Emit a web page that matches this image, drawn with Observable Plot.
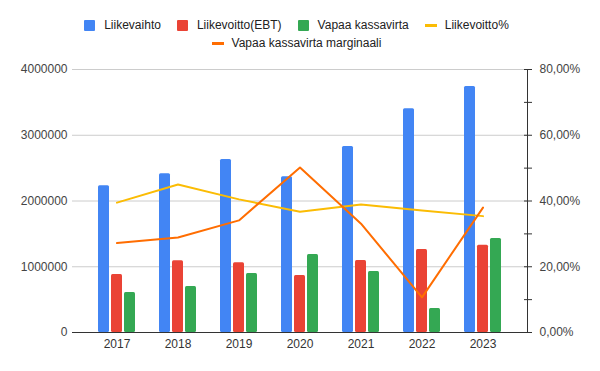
<!DOCTYPE html>
<html><head><meta charset="utf-8">
<script src="https://cdn.jsdelivr.net/npm/d3@7"></script>
<script src="https://cdn.jsdelivr.net/npm/@observablehq/plot@0.6"></script>
<style>
body{margin:0;background:#fff;font-family:"Liberation Sans",Arial,sans-serif;}
#legend{position:relative;height:56px;width:600px;font-size:12px;color:#222;}
.row{position:absolute;left:0;width:593px;display:flex;justify-content:center;align-items:center;height:16px;}
.item{display:flex;align-items:center;margin:0 8px;white-space:nowrap;}
.sw{width:11px;height:11px;border-radius:1px;margin-right:9px;}
.ln{width:12px;height:3px;margin-right:8px;}
</style></head>
<body>
<div id="legend"><div class="row" id="r1" style="top:17px"></div><div class="row" id="r2" style="top:35px"></div></div>
<div id="chart"></div>
<script>
const years = ["2017","2018","2019","2020","2021","2022","2023"];
const liikevaihto = [2231000, 2413000, 2631000, 2368000, 2829000, 3402000, 3741000];
const liikevoitto = [882000, 1090000, 1060000, 867000, 1095000, 1262000, 1328000];
const vapaaKassavirta = [608000, 700000, 897000, 1186000, 928000, 365000, 1430000];
const liikevoittoPct = [0.395, 0.450, 0.405, 0.367, 0.389, 0.371, 0.354];
const kassavirtaMarginaali = [0.272, 0.289, 0.341, 0.502, 0.331, 0.107, 0.380];
const leftTicks = [0, 1000000, 2000000, 3000000, 4000000];
const rightTicks = [0, 0.1, 0.2, 0.3, 0.4, 0.5, 0.6, 0.7, 0.8];
const rightLabels = ["0,00%", "", "20,00%", "", "40,00%", "", "60,00%", "", "80,00%"];

const barSeries = [
  {name: "Liikevaihto", values: liikevaihto, color: "#4285F4", dx: -13},
  {name: "Liikevoitto(EBT)", values: liikevoitto, color: "#EA4335", dx: 0},
  {name: "Vapaa kassavirta", values: vapaaKassavirta, color: "#34A853", dx: 13}
];
const lineSeries = [
  {name: "Liikevoitto%", values: liikevoittoPct, color: "#FBBC04"},
  {name: "Vapaa kassavirta marginaali", values: kassavirtaMarginaali, color: "#FF6D01"}
];

const leftMax = 4000000, rightMax = 0.8;
const k = leftMax / rightMax;

// legend
function addItem(row, s, isLine) {
  const it = document.createElement("div"); it.className = "item";
  const m = document.createElement("div"); m.className = isLine ? "ln" : "sw"; m.style.background = s.color;
  const t = document.createElement("span"); t.textContent = s.name;
  it.appendChild(m); it.appendChild(t); row.appendChild(it);
}
const r1 = document.getElementById("r1"), r2 = document.getElementById("r2");
barSeries.forEach(s => addItem(r1, s, false));
addItem(r1, lineSeries[0], true);
addItem(r2, lineSeries[1], true);

const marks = [
  Plot.gridY(leftTicks, {stroke: "#cccccc", strokeOpacity: 1})
];
barSeries.forEach(s => {
  marks.push(Plot.barY(years.map((y, i) => ({year: y, v: s.values[i]})), {x: "year", y: "v", fill: s.color, dx: s.dx, rx: 1.5}));
});
marks.push(Plot.ruleY([0], {stroke: "#333"}));
lineSeries.forEach(s => {
  marks.push(Plot.lineY(years.map((y, i) => ({year: y, v: s.values[i] * k})), {x: "year", y: "v", stroke: s.color, strokeWidth: 2}));
});
marks.push(
  Plot.axisY(leftTicks, {anchor: "left", tickSize: 0, tickPadding: 5, tickFormat: d => String(d), label: null, fill: "#444"}),
  Plot.axisY(rightTicks.map(t => t * k), {anchor: "right", tickSize: 4, tickPadding: 8, tickFormat: (d, i) => rightLabels[i], label: null, fill: "#444", stroke: "#333"}),
  Plot.axisY(rightTicks.map(t => t * k), {anchor: "right", tickSize: 4, dx: -4, text: null, label: null, stroke: "#333"}),
  Plot.frame({anchor: "right", stroke: "#333"}),
  Plot.axisX({tickSize: 0, tickPadding: 7, label: null, fill: "#333"})
);

const chart = Plot.plot({
  width: 600, height: 315,
  marginTop: 13, marginBottom: 39, marginLeft: 72, marginRight: 73,
  style: {fontFamily: "'Liberation Sans', Arial, sans-serif", fontSize: "12px", background: "#fff"},
  x: {type: "band", domain: years, paddingInner: 0.821, paddingOuter: 0.61, align: 0.5},
  y: {domain: [0, leftMax]},
  marks
});
document.getElementById("chart").appendChild(chart);
</script>
</body></html>
